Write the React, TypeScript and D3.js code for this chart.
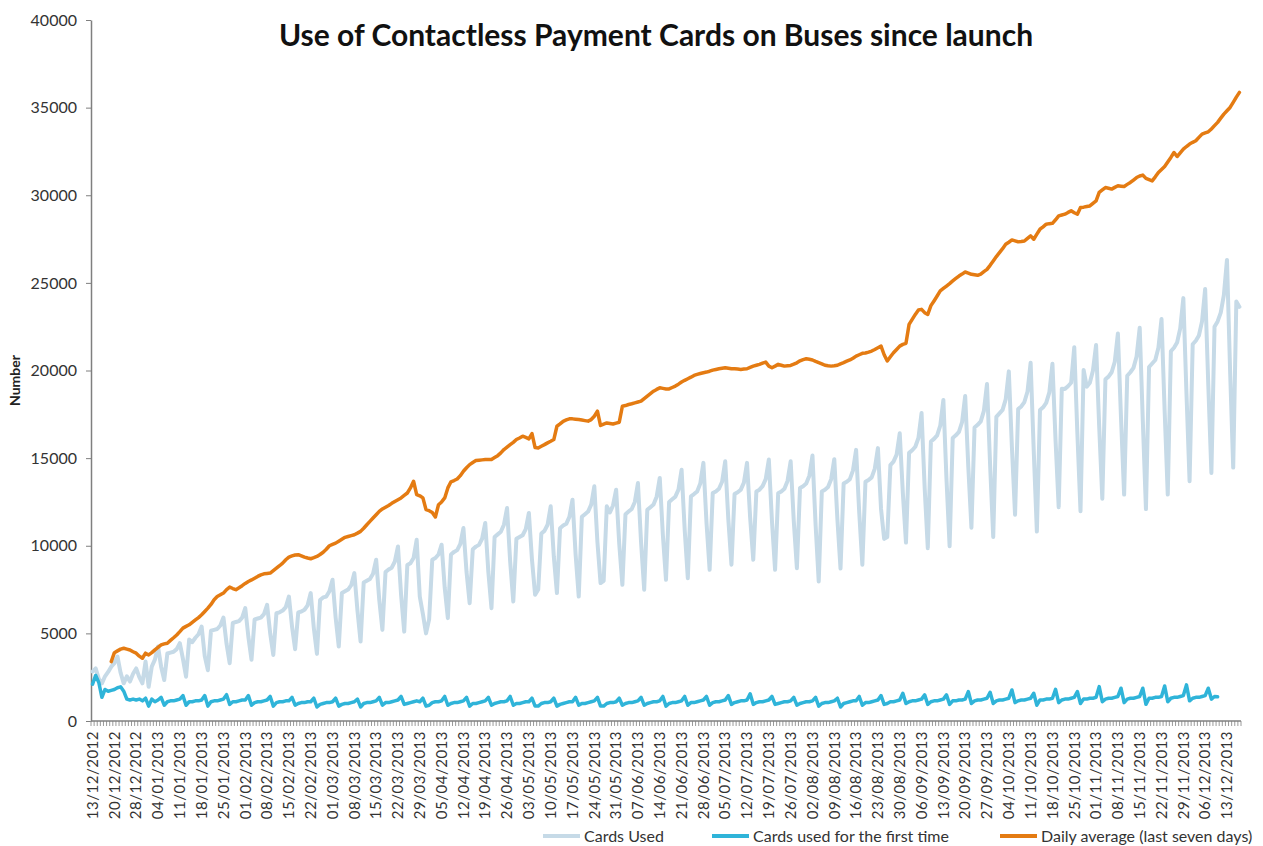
import { useRef, useEffect } from "react";
import * as d3 from "d3";

// categories: one per day, buses did not run on Christmas Day
const firstDay = new Date(2012, 11, 13);
const lastDay = new Date(2013, 11, 17);
const noServiceDays = ["25/12/2012"];

const tickLabels = [
  "13/12/2012", "20/12/2012", "28/12/2012", "04/01/2013", "11/01/2013", "18/01/2013",
  "25/01/2013", "01/02/2013", "08/02/2013", "15/02/2013", "22/02/2013", "01/03/2013",
  "08/03/2013", "15/03/2013", "22/03/2013", "29/03/2013", "05/04/2013", "12/04/2013",
  "19/04/2013", "26/04/2013", "03/05/2013", "10/05/2013", "17/05/2013", "24/05/2013",
  "31/05/2013", "07/06/2013", "14/06/2013", "21/06/2013", "28/06/2013", "05/07/2013",
  "12/07/2013", "19/07/2013", "26/07/2013", "02/08/2013", "09/08/2013", "16/08/2013",
  "23/08/2013", "30/08/2013", "06/09/2013", "13/09/2013", "20/09/2013", "27/09/2013",
  "04/10/2013", "11/10/2013", "18/10/2013", "25/10/2013", "01/11/2013", "08/11/2013",
  "15/11/2013", "22/11/2013", "29/11/2013", "06/12/2013", "13/12/2013",
];

const yTicks = [0, 5000, 10000, 15000, 20000, 25000, 30000, 35000, 40000];

// Cards Used: 13/12/2012 - 06/01/2013, then Mon..Sun weeks from 07/01/2013
const cardsUsed = [
  2820, 3000, 2400, 2150, 2550, 2800, 3100, 3300, 3680, 2750, 2150, 2550,
  2250, 2700, 3000, 2500, 2150, 3400, 1950, 3100, 3500, 4250, 3100, 2340,
  3850, 3900, 3950, 4100, 4440, 3550, 2530,
  4650, 4500, 4750, 4950, 5390, 3700, 2900,
  5150, 5200, 5250, 5450, 5900, 4400, 3300,
  5600, 5650, 5700, 5900, 6440, 4800, 3490,
  5800, 5850, 5900, 6100, 6630, 5000, 3770,
  6150, 6200, 6300, 6500, 7100, 5400, 4100,
  6200, 6250, 6350, 6600, 7300, 5300, 3830,
  6900, 7050, 7100, 7400, 8060, 5900, 4250,
  7300, 7400, 7500, 7750, 8440, 6300, 4530,
  7900, 8000, 8100, 8400, 9200, 6900, 5200,
  8500, 8650, 8750, 9100, 9960, 7200, 5100,
  8900, 9000, 9300, 10340, 7100, 6100, 5000,
  5800, 9200, 9300, 9500, 10060, 7600, 5870,
  9500, 9650, 9750, 10100, 11010, 8500, 6720,
  9800, 9950, 10050, 10400, 11300, 8500, 6440,
  10500, 10650, 10800, 11200, 12150, 9100, 6820,
  10400, 10500, 10600, 10950, 11870, 9200, 7200,
  7500, 10700, 10850, 11200, 12250, 9400, 7300,
  11000, 11150, 11250, 11650, 12630, 9500, 7100,
  11650, 11800, 11950, 12350, 13390, 10200, 7870,
  8000, 12250, 11900, 12300, 13200, 10100, 7770,
  11800, 11950, 12100, 12500, 13580, 10200, 7490,
  12050, 12200, 12350, 12800, 13870, 10600, 8060,
  12500, 12650, 12800, 13200, 14340, 10900, 8150,
  12820, 12950, 13100, 13550, 14730, 11300, 8630,
  13010, 13100, 13250, 13650, 14820, 11500, 8920,
  12950, 13050, 13200, 13600, 14730, 11600, 9200,
  13100, 13200, 13400, 13800, 14920, 11400, 8630,
  13000, 13100, 13250, 13700, 14820, 11400, 8720,
  13300, 13400, 13550, 14000, 15150, 11200, 7960,
  13100, 13200, 13350, 13800, 14940, 11500, 8700,
  13550, 13650, 13800, 14300, 15470, 11900, 8920,
  13650, 13750, 13900, 14400, 15570, 12100, 10390,
  10500, 14600, 14800, 15200, 16420, 13000, 10180,
  15300, 15450, 15650, 16150, 17580, 13300, 9860,
  15950, 16100, 16300, 16850, 18320, 13800, 9970,
  16150, 16300, 16500, 17050, 18540, 14500, 11030,
  16750, 16900, 17100, 17700, 19230, 14600, 10500,
  17350, 17550, 17750, 18350, 19950, 15600, 11770,
  17800, 17950, 18200, 18800, 20440, 15400, 10810,
  17750, 17900, 18150, 18750, 20380, 16000, 12200,
  18960, 18950, 19100, 19300, 21330, 16400, 11970,
  20030, 19080, 19300, 20000, 21450, 16800, 12680,
  19500, 19650, 19900, 20500, 22110, 17300, 12920,
  19700, 19900, 20150, 20800, 22440, 17100, 12090,
  20200, 20400, 20600, 21300, 22940, 17700, 12920,
  21100, 21300, 21600, 22400, 24130, 18700, 13680,
  21500, 21700, 22000, 22800, 24650, 19200, 14150,
  22500, 22800, 23300, 24300, 26310, 20000, 14460,
  23940, 23630,
];

// Cards used for the first time (ends 10/12/2013)
const firstTimeCards = [
  2100, 2600, 2200, 1350, 1800, 1700, 1750, 1800, 1900, 1950, 1700, 1250,
  1200, 1250, 1200, 1250, 1150, 1300, 850, 1250, 1100, 1200, 1350, 900,
  1100, 1150, 1150, 1200, 1250, 1450, 900,
  1100, 1100, 1150, 1150, 1200, 1450, 850,
  1100, 1150, 1150, 1200, 1250, 1500, 950,
  1100, 1100, 1150, 1200, 1200, 1450, 900,
  1050, 1100, 1100, 1150, 1200, 1400, 850,
  1050, 1100, 1100, 1150, 1150, 1350, 900,
  1000, 1050, 1050, 1100, 1100, 1300, 800,
  950, 1000, 1050, 1050, 1100, 1300, 850,
  950, 1000, 1000, 1050, 1100, 1250, 800,
  1000, 1050, 1050, 1100, 1150, 1350, 900,
  1050, 1050, 1100, 1150, 1200, 1400, 950,
  1000, 1050, 1100, 1150, 1100, 1300, 850,
  900, 1050, 1100, 1100, 1150, 1400, 900,
  1000, 1050, 1050, 1100, 1150, 1350, 850,
  1000, 1000, 1050, 1100, 1150, 1350, 900,
  1000, 1050, 1100, 1100, 1150, 1400, 900,
  1000, 1000, 1050, 1100, 1100, 1300, 850,
  850, 1000, 1050, 1050, 1100, 1300, 850,
  950, 1000, 1050, 1100, 1100, 1350, 900,
  1000, 1000, 1050, 1100, 1150, 1350, 850,
  850, 1000, 1050, 1050, 1100, 1300, 900,
  1000, 1050, 1050, 1100, 1150, 1350, 900,
  1000, 1050, 1100, 1100, 1150, 1400, 850,
  1000, 1050, 1050, 1100, 1150, 1400, 900,
  1050, 1050, 1100, 1150, 1200, 1400, 900,
  1050, 1100, 1100, 1150, 1200, 1450, 950,
  1050, 1100, 1150, 1150, 1200, 1550, 950,
  1050, 1100, 1100, 1150, 1200, 1400, 950,
  1000, 1050, 1100, 1100, 1150, 1350, 900,
  1000, 1050, 1100, 1100, 1150, 1350, 850,
  1000, 1050, 1050, 1100, 1150, 1300, 800,
  1000, 1050, 1100, 1150, 1150, 1400, 900,
  1050, 1050, 1100, 1150, 1200, 1450, 950,
  1000, 1100, 1100, 1150, 1200, 1580, 1000,
  1100, 1150, 1150, 1200, 1250, 1490, 950,
  1100, 1150, 1150, 1200, 1250, 1490, 950,
  1150, 1150, 1200, 1200, 1250, 1680, 1000,
  1150, 1200, 1200, 1250, 1300, 1640, 1000,
  1150, 1200, 1200, 1250, 1300, 1770, 1050,
  1150, 1200, 1200, 1250, 1300, 1580, 900,
  1200, 1200, 1250, 1250, 1300, 1810, 1050,
  1200, 1250, 1250, 1300, 1350, 1680, 1000,
  1250, 1250, 1300, 1300, 1350, 1960, 1100,
  1250, 1300, 1300, 1350, 1400, 1870, 1050,
  1250, 1300, 1300, 1350, 1400, 1870, 950,
  1300, 1300, 1350, 1350, 1400, 2000, 1100,
  1300, 1350, 1350, 1400, 1450, 2060, 1150,
  1300, 1350, 1350, 1400, 1450, 1870, 1250,
  1400, 1380,
];

// Daily average (last seven days), first value on 19/12/2012
const dailyAverage = [
  null, null, null, null, null, null,
  3390, 3900, 4000, 4100, 4150, 4100, 4050, 3950, 3870, 3700, 3580, 3870,
  3770, 3900, 4060, 4200, 4340, 4400,
  4440, 4600, 4750, 4910, 5100, 5300, 5400,
  5490, 5630, 5770, 5900, 6060, 6250, 6440,
  6650, 6920, 7100, 7200, 7300, 7500, 7640,
  7560, 7490, 7600, 7720, 7850, 7960, 8050,
  8150, 8250, 8340, 8400, 8420, 8440, 8580,
  8720, 8860, 9010, 9200, 9350, 9420, 9470,
  9490, 9420, 9350, 9300, 9260, 9320, 9390,
  9500, 9630, 9800, 10000, 10080, 10150, 10260,
  10370, 10480, 10530, 10580, 10630, 10720, 10820,
  11000, 11200, 11390, 11580, 11770, 11960, 12100,
  12200, 12300, 12420, 12530, 12630, 12730, 12870,
  13010, 13300, 13680, 12920, 12850, 12730, 12060,
  12000, 11900, 11640, 12340, 12500, 12730, 13300,
  13650, 13720, 13810, 14000, 14250, 14450, 14630,
  14750, 14860, 14880, 14900, 14920, 14920, 14920,
  15030, 15140, 15300, 15490, 15630, 15770, 15900,
  16060, 16150, 16250, 16180, 16100, 16400, 15600,
  15580, 15680, 15770, 15870, 15960, 16060, 16820,
  16950, 17100, 17180, 17240, 17240, 17220, 17200,
  17170, 17140, 17110, 17200, 17390, 17680, 16860,
  16940, 17010, 16980, 16950, 17000, 17050, 17960,
  18000, 18060, 18100, 18150, 18200, 18250, 18400,
  18540, 18680, 18820, 18920, 19010, 18980, 18950,
  18950, 19030, 19110, 19220, 19340, 19440, 19530,
  19620, 19720, 19780, 19830, 19870, 19910, 19960,
  20020, 20060, 20100, 20130, 20160, 20130, 20100,
  20100, 20080, 20060, 20080, 20100, 20180, 20250,
  20300, 20350, 20420, 20480, 20250, 20160, 20250,
  20350, 20300, 20250, 20270, 20290, 20360, 20440,
  20550, 20620, 20670, 20640, 20600, 20520, 20450,
  20380, 20300, 20270, 20250, 20270, 20300, 20380,
  20450, 20530, 20600, 20700, 20820, 20900, 20980,
  21000, 21050, 21110, 21200, 21300, 21390, 20900,
  20540, 20780, 21010, 21200, 21390, 21490, 21550,
  22630, 22920, 23200, 23450, 23490, 23300, 23200,
  23700, 23970, 24250, 24540, 24680, 24820, 24960,
  25110, 25250, 25390, 25500, 25620, 25560, 25490,
  25460, 25430, 25500, 25640, 25770, 26000, 26250,
  26500, 26730, 26950, 27200, 27320, 27450, 27400,
  27340, 27360, 27390, 27540, 27680, 27490, 27780,
  28060, 28200, 28350, 28380, 28400, 28600, 28820,
  28870, 28920, 29020, 29110, 29000, 28920, 29300,
  29320, 29360, 29390, 29540, 29680, 30160, 30300,
  30440, 30400, 30350, 30450, 30540, 30520, 30500,
  30620, 30730, 30870, 31010, 31100, 31150, 30960,
  30890, 30820, 31050, 31300, 31470, 31640, 31900,
  32160, 32440, 32210, 32420, 32630, 32780, 32920,
  33020, 33110, 33300, 33490, 33560, 33620, 33780,
  33970, 34160, 34400, 34630, 34820, 35010, 35300,
  35600, 35870,
];

const seriesNames = ["Cards Used", "Cards used for the first time", "Daily average (last seven days)"];
const seriesColors = ["#c6dae7", "#2fb4d9", "#e47b12"];

const FONT = "Lato, 'Open Sans', 'DejaVu Sans', sans-serif";

export default function App() {
  const svgRef = useRef<SVGSVGElement>(null);

  useEffect(() => {
    if (!svgRef.current) return;
    const svg = d3.select(svgRef.current);
    svg.selectAll("*").remove();

    const width = 1263;
    const height = 846;
    const margin = { top: 20, right: 22, bottom: 125, left: 91 };

    const fmt = d3.timeFormat("%d/%m/%Y");
    const days = d3
      .timeDay.range(firstDay, d3.timeDay.offset(lastDay, 1))
      .map(fmt)
      .filter((d) => !noServiceDays.includes(d));

    const x = d3
      .scaleBand()
      .domain(days)
      .range([margin.left, width - margin.right]);
    const cx = (d: string) => (x(d) || 0) + x.bandwidth() / 2;

    const y = d3
      .scaleLinear()
      .domain([0, 40000])
      .range([height - margin.bottom, margin.top]);

    svg.attr("viewBox", `0 0 ${width} ${height}`).style("font-family", FONT);

    // Title
    svg
      .append("text")
      .attr("x", 656)
      .attr("y", 46)
      .attr("text-anchor", "middle")
      .attr("font-size", "30px")
      .attr("font-weight", "700")
      .attr("fill", "#111")
      .text("Use of Contactless Payment Cards on Buses since launch");

    // Y axis
    svg
      .append("g")
      .attr("transform", `translate(${margin.left}, 0)`)
      .call(
        d3
          .axisLeft(y)
          .tickValues(yTicks)
          .tickFormat(d3.format("d"))
          .tickSize(5)
          .tickSizeOuter(0)
          .tickPadding(9)
      )
      .call((g) => g.select(".domain").attr("stroke", "#7f7f7f").attr("stroke-width", 1.5))
      .call((g) => g.selectAll(".tick line").attr("stroke", "#7f7f7f"))
      .call((g) =>
        g.selectAll(".tick text").attr("fill", "#333").attr("font-size", "16px").attr("font-family", FONT)
      );

    svg
      .append("text")
      .attr("transform", `translate(20, ${(margin.top + height - margin.bottom) / 2 + 10}) rotate(-90)`)
      .attr("text-anchor", "middle")
      .attr("font-size", "14px")
      .attr("font-weight", "700")
      .attr("fill", "#222")
      .text("Number");

    // X axis: a small tick at every category boundary
    const x0 = y(0);
    const xAxis = svg.append("g");
    xAxis
      .selectAll("line.minor")
      .data([...days, null])
      .enter()
      .append("line")
      .attr("class", "minor")
      .attr("x1", (d) => (d ? x(d) || 0 : width - margin.right))
      .attr("x2", (d) => (d ? x(d) || 0 : width - margin.right))
      .attr("y1", x0)
      .attr("y2", x0 + 5)
      .attr("stroke", "#9a9a9a")
      .attr("stroke-width", 1);
    xAxis
      .append("line")
      .attr("x1", margin.left)
      .attr("x2", width - margin.right)
      .attr("y1", x0)
      .attr("y2", x0)
      .attr("stroke", "#7f7f7f")
      .attr("stroke-width", 1.5);
    xAxis
      .selectAll("text")
      .data(tickLabels)
      .enter()
      .append("text")
      .attr("transform", (d) => `translate(${cx(d)}, ${x0 + 10}) rotate(-90)`)
      .attr("text-anchor", "end")
      .attr("dy", "0.35em")
      .attr("font-size", "15px")
      .attr("letter-spacing", "0.5px")
      .attr("fill", "#333")
      .text((d) => d);

    // Lines
    const series = [cardsUsed, firstTimeCards, dailyAverage];
    const line = d3
      .line<number | null>()
      .defined((d) => d != null)
      .x((_, i) => cx(days[i]))
      .y((d) => y(d as number));

    series.forEach((values, i) => {
      svg
        .append("path")
        .datum(values)
        .attr("fill", "none")
        .attr("stroke", seriesColors[i])
        .attr("stroke-width", i === 0 ? 4 : 3.5)
        .attr("stroke-linejoin", "round")
        .attr("stroke-linecap", "round")
        .attr("d", line as any);
    });

    // Legend
    const legendX = [543, 712, 1000];
    const legend = svg
      .selectAll(".legend")
      .data(seriesNames)
      .enter()
      .append("g")
      .attr("class", "legend")
      .attr("transform", (_, i) => `translate(${legendX[i]}, 836)`);
    legend
      .append("line")
      .attr("x1", 0)
      .attr("x2", 37)
      .attr("stroke", (_, i) => seriesColors[i])
      .attr("stroke-width", 4);
    legend
      .append("text")
      .attr("x", 41)
      .attr("dy", "0.35em")
      .attr("font-size", "16px")
      .attr("fill", "#333")
      .text((d) => d);
  }, []);

  return (
    <svg
      ref={svgRef}
      width={1263}
      height={846}
      style={{ position: "absolute", left: 0, top: 0, background: "#fff" }}
    />
  );
}
